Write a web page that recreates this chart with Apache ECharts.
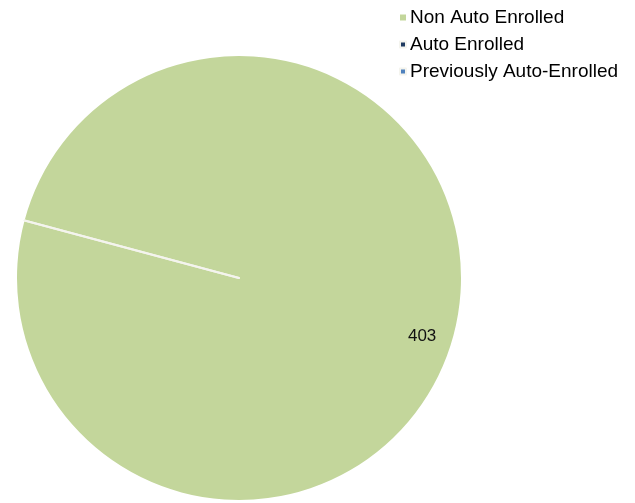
<!DOCTYPE html>
<html>
<head>
<meta charset="utf-8">
<script src="https://cdn.jsdelivr.net/npm/echarts@6/dist/echarts.min.js"></script>
<style>
  html, body { margin: 0; padding: 0; background: #fff; }
  #main { width: 635px; height: 503px; }
</style>
</head>
<body>
<div id="main"></div>
<script>
    // enrollment pie
    var categories = ['Non Auto Enrolled', 'Auto Enrolled', 'Previously Auto-Enrolled'];
    var values = [403, 0, 0];
    var colors = ['#c3d69b', '#1f3a60', '#4f81bd'];

    var myChart = echarts.init(document.getElementById('main'));

    var pieData = [];
    for (var i = 0; i < categories.length; i++) {
        pieData.push({
            name: categories[i],
            value: values[i],
            itemStyle: values[i] === 0
                ? { color: colors[i], borderColor: '#f4f4ee', borderWidth: 2 }
                : { color: colors[i] },
            label: { show: values[i] !== 0 }
        });
    }

    var option = {
        animation: false,
        legend: {
            orient: 'vertical',
            left: 394,
            top: 3,
            itemWidth: 6,
            itemHeight: 6,
            itemGap: 8,
            icon: 'rect',
            textStyle: {
                fontFamily: 'Liberation Sans',
                fontSize: 19,
                lineHeight: 19,
                color: '#000',
                padding: [0, 0, 0, -1]
            },
            data: categories
        },
        series: [
            {
                type: 'pie',
                center: [239, 278],
                radius: 222,
                startAngle: 165,
                clockwise: true,
                avoidLabelOverlap: false,
                label: {
                    position: 'inside',
                    formatter: '{c}',
                    fontFamily: 'Liberation Sans',
                    fontSize: 17,
                    color: '#111'
                },
                labelLayout: { dx: 73, dy: 29 },
                labelLine: { show: false },
                emphasis: { disabled: true },
                data: pieData
            }
        ]
    };

    myChart.setOption(option);
</script>
</body>
</html>
